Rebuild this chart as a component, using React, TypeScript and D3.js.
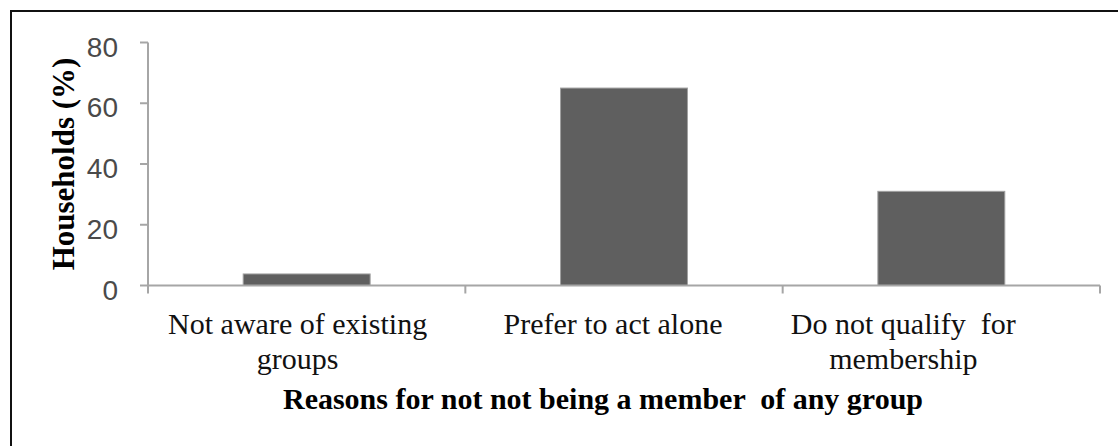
import React from "react";
import * as d3 from "d3";

const categories = ["Not aware of existing groups", "Prefer to act alone", "Do not qualify for membership"];
const categoryLines = [["Not aware of existing", "groups"], ["Prefer to act alone"], ["Do not qualify  for", "membership"]];
const values = [3.8, 65, 31];
const yTicks = [0, 20, 40, 60, 80];
const yTitle = "Households (%)";
const xTitle = "Reasons for not not being a member  of any group";

// layout
const W = 1118, H = 446;
const plotLeft = 148, plotRight = 1100, plotTop = 42.5, plotBottom = 285.5;
const labelShift = [-9, -11, -38];

export default function App() {
  const x = d3.scaleBand<string>().domain(categories).range([plotLeft, plotRight]).paddingInner(0.6).paddingOuter(0.3);
  const y = d3.scaleLinear().domain([0, 80]).range([plotBottom, plotTop]);
  const step = x.step();
  const edges = d3.range(categories.length + 1).map((i) => plotLeft + i * step);
  const axisColor = "#a6a6a6";
  return (
    <svg width={W} height={H} style={{ position: "absolute", left: 0, top: 0, background: "#fff" }}>
      <rect x={0} y={0} width={W} height={H} fill="#fff" />
      <line x1={10} y1={11} x2={W} y2={11} stroke="#111" strokeWidth={2} />
      <line x1={11} y1={10} x2={11} y2={H} stroke="#111" strokeWidth={2} />
      {/* bars */}
      {values.map((v, i) => (
        <rect key={i} x={x(categories[i])!} y={y(v)} width={x.bandwidth()} height={y(0) - y(v)}
          fill="#5f5f5f" stroke="#a0a0a0" strokeWidth={1} />
      ))}
      {/* y axis */}
      <line x1={plotLeft} y1={plotTop} x2={plotLeft} y2={plotBottom} stroke={axisColor} strokeWidth={2} />
      {yTicks.map((t) => (
        <g key={t}>
          <line x1={plotLeft - 8} x2={plotLeft} y1={y(t)} y2={y(t)} stroke={axisColor} strokeWidth={2} />
          <text x={plotLeft - 30} y={y(t) + 14} textAnchor="end" fontFamily="'Liberation Sans', Arial, sans-serif"
            fontSize={28} fill="#4a4a4a">{t}</text>
        </g>
      ))}
      {/* x axis */}
      <line x1={plotLeft} y1={plotBottom} x2={plotRight} y2={plotBottom} stroke={axisColor} strokeWidth={2} />
      {edges.map((e, i) => (
        <line key={i} x1={e} x2={e} y1={plotBottom} y2={plotBottom + 8} stroke={axisColor} strokeWidth={2} />
      ))}
      {categoryLines.map((lines, i) => (
        <text key={i} textAnchor="middle" fontFamily="'Liberation Serif', 'Times New Roman', serif" fontSize={30}
          fill="#111" style={{ whiteSpace: "pre" }}>
          {lines.map((l, j) => (
            <tspan key={j} x={x(categories[i])! + x.bandwidth() / 2 + labelShift[i]} y={334 + j * 35}>{l}</tspan>
          ))}
        </text>
      ))}
      <text x={603} y={409} textAnchor="middle" fontFamily="'Liberation Serif', 'Times New Roman', serif"
        fontSize={30} fontWeight="bold" fill="#000" style={{ whiteSpace: "pre" }}>{xTitle}</text>
      <text transform={`translate(74, ${(plotTop + plotBottom) / 2}) rotate(-90)`} textAnchor="middle"
        fontFamily="'Liberation Serif', 'Times New Roman', serif" fontSize={31} fontWeight="bold" fill="#000">{yTitle}</text>
    </svg>
  );
}
